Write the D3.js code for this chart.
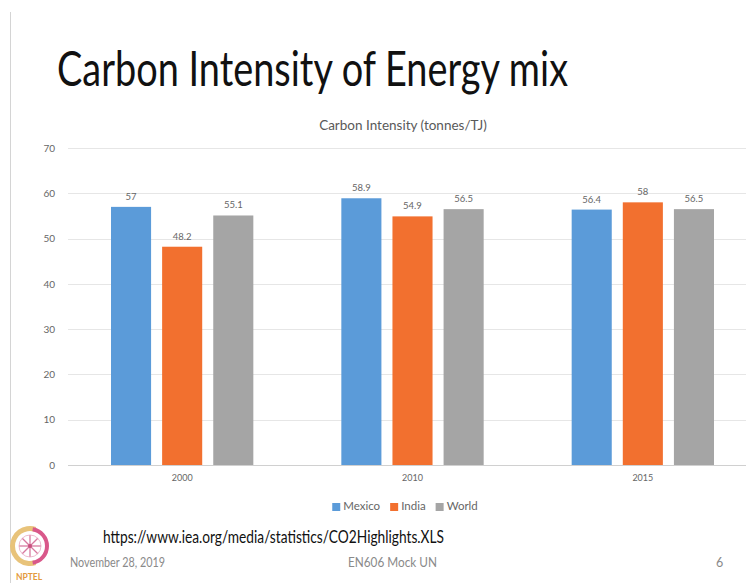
<!DOCTYPE html>
<html>
<head>
<meta charset="utf-8">
<script src="https://cdn.jsdelivr.net/npm/d3@7"></script>
<style>
  html, body { margin: 0; padding: 0; background: #fff; }
  svg { display: block; }
</style>
</head>
<body>
<svg id="slide" width="746" height="583"></svg>
<script>
// Carbon intensity (tonnes CO2 per TJ) by year and country
const years = ["2000", "2010", "2015"];
const seriesNames = ["Mexico", "India", "World"];
const mexico = [57, 58.9, 56.4];
const india = [48.2, 54.9, 58];
const world = [55.1, 56.5, 56.5];
const yTicks = [0, 10, 20, 30, 40, 50, 60, 70];
const colors = ["#5B9BD9", "#F2702F", "#A5A5A5"];

const values = [mexico, india, world];
const rows = years.map((yr, i) => ({
  year: yr,
  vals: seriesNames.map((s, j) => ({ series: s, value: values[j][i] }))
}));

const svg = d3.select("#slide");
const font = "Lato, 'Open Sans', sans-serif";

// slide frame line on the left
svg.append("line")
  .attr("x1", 10.5).attr("x2", 10.5).attr("y1", 12).attr("y2", 583)
  .attr("stroke", "#d4d4d4").attr("stroke-width", 1);

// slide heading
svg.append("text")
  .attr("x", 57).attr("y", 86)
  .attr("font-family", font).attr("font-size", 48)
  .attr("fill", "#111")
  .attr("textLength", 511).attr("lengthAdjust", "spacingAndGlyphs")
  .text("Carbon Intensity of Energy mix");

// chart title
svg.append("text")
  .attr("x", 403).attr("y", 130)
  .attr("text-anchor", "middle")
  .attr("font-family", font).attr("font-size", 13.5)
  .attr("fill", "#595959")
  .text("Carbon Intensity (tonnes/TJ)");

// scales
const y = d3.scaleLinear().domain([0, 70]).range([465, 148]);
const x0 = d3.scaleBand().domain(years).range([67, 758]).padding(0);
const x1 = d3.scaleBand().domain(seriesNames)
  .range([44, x0.bandwidth() - 44]).paddingInner(0.216).paddingOuter(0);
const color = d3.scaleOrdinal().domain(seriesNames).range(colors);

// gridlines
svg.append("g").selectAll("line")
  .data(yTicks)
  .join("line")
  .attr("x1", 68).attr("x2", 746)
  .attr("y1", d => Math.round(y(d)) + 0.5)
  .attr("y2", d => Math.round(y(d)) + 0.5)
  .attr("stroke", d => d === 0 ? "#d0d0d0" : "#e6e6e6")
  .attr("stroke-width", 1);

// y axis labels
const yAxis = d3.axisLeft(y).tickValues(yTicks).tickSize(0).tickPadding(0);
const gy = svg.append("g").attr("transform", "translate(55,0)").call(yAxis);
gy.select(".domain").remove();
gy.selectAll("text")
  .attr("font-family", font).attr("font-size", 10)
  .attr("fill", "#666");

// bars
const groups = svg.append("g").selectAll("g")
  .data(rows)
  .join("g")
  .attr("transform", d => `translate(${x0(d.year)},0)`);

groups.selectAll("rect")
  .data(d => d.vals)
  .join("rect")
  .attr("x", d => x1(d.series))
  .attr("width", x1.bandwidth())
  .attr("y", d => y(d.value))
  .attr("height", d => y(0) - y(d.value))
  .attr("fill", d => color(d.series));

// value labels
groups.selectAll("text")
  .data(d => d.vals)
  .join("text")
  .attr("x", d => x1(d.series) + x1.bandwidth() / 2)
  .attr("y", d => y(d.value) - 7)
  .attr("text-anchor", "middle")
  .attr("font-family", font).attr("font-size", 9.5)
  .attr("fill", "#666")
  .text(d => d.value);

// category axis
const xAxis = d3.axisBottom(x0).tickSize(0).tickPadding(0);
const gx = svg.append("g").attr("transform", "translate(0,475)").call(xAxis);
gx.select(".domain").remove();
gx.selectAll("text")
  .attr("font-family", font).attr("font-size", 9)
  .attr("fill", "#666");

// legend, centred under the plot
const legend = svg.append("g");
const items = legend.selectAll("g").data(seriesNames).join("g");
items.append("rect").attr("width", 8).attr("height", 8).attr("y", -7)
  .attr("fill", d => color(d));
items.append("text").attr("x", 11).attr("y", 0)
  .attr("font-family", font).attr("font-size", 11.5)
  .attr("fill", "#666")
  .text(d => d);
let offset = 0;
items.each(function () {
  const g = d3.select(this);
  g.attr("transform", `translate(${offset},0)`);
  offset += 11 + g.select("text").node().getComputedTextLength() + 10;
});
const legendWidth = offset - 10;
legend.attr("transform", `translate(${405 - legendWidth / 2},510)`);

// source link
svg.append("text")
  .attr("x", 103).attr("y", 543)
  .attr("font-family", font).attr("font-size", 17)
  .attr("fill", "#111")
  .attr("textLength", 341).attr("lengthAdjust", "spacingAndGlyphs")
  .text("https://www.iea.org/media/statistics/CO2Highlights.XLS");

// footer
const footer = [
  { t: "November 28, 2019", x: 70, len: 95 },
  { t: "EN606 Mock UN", x: 348, len: 89 },
  { t: "6", x: 716, len: null }
];
svg.append("g").selectAll("text").data(footer).join("text")
  .attr("x", d => d.x).attr("y", 567)
  .attr("font-family", font).attr("font-size", 12.5)
  .attr("fill", "#8a8a8a")
  .each(function (d) {
    if (d.len) d3.select(this).attr("textLength", d.len).attr("lengthAdjust", "spacingAndGlyphs");
  })
  .text(d => d.t);

// NPTEL emblem
const logo = svg.append("g").attr("transform", "translate(30,546)");
logo.append("path")
  .attr("d", d3.arc()({ innerRadius: 15, outerRadius: 20, startAngle: Math.PI * 0.9, endAngle: Math.PI * 2.1 }))
  .attr("fill", "#e8c37a");
logo.append("path")
  .attr("d", d3.arc()({ innerRadius: 15, outerRadius: 19, startAngle: Math.PI * 0.05, endAngle: Math.PI * 0.95 }))
  .attr("fill", "#d9588a");
const spokes = d3.range(8).map(i => i * Math.PI / 4);
logo.selectAll("line.spoke").data(spokes).join("line")
  .attr("class", "spoke")
  .attr("x1", 0).attr("y1", 0)
  .attr("x2", a => 11 * Math.cos(a)).attr("y2", a => 11 * Math.sin(a))
  .attr("stroke", "#d77aa0").attr("stroke-width", 1.3);
logo.append("circle").attr("r", 11).attr("fill", "none")
  .attr("stroke", "#e7a9c2").attr("stroke-width", 0.8);
logo.append("circle").attr("r", 2).attr("fill", "#c9507f");
svg.append("text")
  .attr("x", 29).attr("y", 580)
  .attr("text-anchor", "middle")
  .attr("font-family", font).attr("font-size", 8.5).attr("font-weight", "bold")
  .attr("fill", "#e49a3c")
  .text("NPTEL");
</script>
</body>
</html>
